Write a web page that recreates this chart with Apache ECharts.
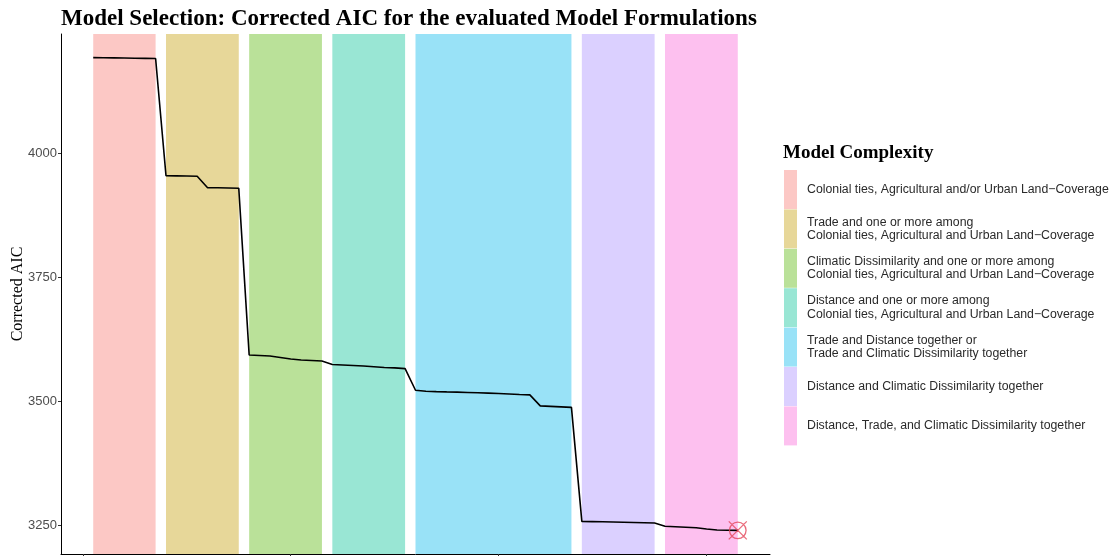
<!DOCTYPE html>
<html>
<head>
<meta charset="utf-8">
<script src="https://cdn.jsdelivr.net/npm/echarts@6/dist/echarts.min.js"></script>
<style>
  html, body { margin: 0; padding: 0; background: #ffffff; }
  #chart { width: 1111px; height: 556px; }
</style>
</head>
<body>
<div id="chart"></div>
<script>
// Model complexity groups, in the order the models are ranked
const groupNames = [
  'Colonial ties, Agricultural and/or Urban Land\u2212Coverage',
  'Trade and one or more among\nColonial ties, Agricultural and Urban Land\u2212Coverage',
  'Climatic Dissimilarity and one or more among\nColonial ties, Agricultural and Urban Land\u2212Coverage',
  'Distance and one or more among\nColonial ties, Agricultural and Urban Land\u2212Coverage',
  'Trade and Distance together or\nTrade and Climatic Dissimilarity together',
  'Distance and Climatic Dissimilarity together',
  'Distance, Trade, and Climatic Dissimilarity together'
];
// Number of model formulations in each group
const groupSizes = [7, 8, 8, 8, 16, 8, 8];

// Corrected AIC of every evaluated model (model index 1..63)
const aicColonial   = [4192, 4191.8, 4191.5, 4191.2, 4190.8, 4190.5, 4190.2];
const aicTrade      = [3954, 3953.8, 3953.5, 3953, 3930, 3929.8, 3929.5, 3929];
const aicClimatic   = [3593, 3592, 3591, 3588, 3585, 3583, 3582, 3581];
const aicDistance   = [3574, 3573, 3572, 3571, 3569.5, 3568, 3567, 3565.5];
const aicTradePairs = [3522, 3520, 3519.3, 3518.7, 3518.2, 3517.6, 3517, 3516.3,
                       3515.5, 3514.6, 3513.6, 3512.7, 3490.5, 3489.5, 3488.5, 3487.5];
const aicDistClim   = [3258, 3257.5, 3257, 3256.5, 3256, 3255.5, 3255, 3254.5];
const aicAll        = [3248, 3247, 3246, 3245, 3242.5, 3240.5, 3240, 3239.8];

const yTicks = [3250, 3500, 3750, 4000];
const xTicks = [0, 20, 40, 60];

// Band fill colours (hue palette blended 40% over white)
const bandColors = ['#FCC8C5', '#E7D799', '#BAE199', '#99E6D4', '#99E2F7', '#DBD0FF', '#FDC0EF'];

const aicValues = [].concat(aicColonial, aicTrade, aicClimatic, aicDistance,
                            aicTradePairs, aicDistClim, aicAll);
const linePoints = aicValues.map((v, i) => [i + 1, v]);
const best = linePoints[linePoints.length - 1];

// Group spans in model index units
const groupSpans = [];
let startIdx = 1;
groupSizes.forEach(n => { groupSpans.push([startIdx, startIdx + n - 1]); startIdx += n; });

// Axis ranges with 5% padding on both sides
const nModels = aicValues.length;
const xPad = (nModels - 1) * 0.05;
const yMinData = Math.min(...aicValues), yMaxData = Math.max(...aicValues);
const yPad = (yMaxData - yMinData) * 0.05;
const yMin = yMinData - yPad, yMax = yMaxData + yPad;

const sans = 'Liberation Sans, Arial, sans-serif';
const serif = 'Liberation Serif, Times New Roman, serif';

const bandSeries = groupNames.map((name, g) => ({
  name: name,
  type: 'custom',
  z: 1,
  itemStyle: { color: bandColors[g] },
  encode: { x: [0, 1], y: 2 },
  data: [[groupSpans[g][0], groupSpans[g][1], yMin]],
  renderItem: function (params, api) {
    const p0 = api.coord([api.value(0), api.value(2)]);
    const p1 = api.coord([api.value(1), api.value(2)]);
    const cs = params.coordSys;
    return {
      type: 'rect',
      shape: { x: p0[0], y: cs.y, width: p1[0] - p0[0], height: cs.height },
      style: { fill: api.visual('color') }
    };
  },
  silent: true
}));

const chart = echarts.init(document.getElementById('chart'), null, { renderer: 'canvas' });
chart.setOption({
  animation: false,
  backgroundColor: '#ffffff',
  title: [
    {
      text: 'Model Selection: Corrected AIC for the evaluated Model Formulations',
      left: 61, top: 8, padding: 0,
      textStyle: { fontFamily: serif, fontWeight: 'bold', fontSize: 23, color: '#000' }
    },
    {
      text: 'Model Complexity',
      left: 783, top: 144, padding: 0,
      textStyle: { fontFamily: serif, fontWeight: 'bold', fontSize: 19, color: '#000' }
    }
  ],
  grid: { left: 61, right: 341, top: 34, bottom: 2, containLabel: false, outerBoundsMode: 'none' },
  legend: {
    data: groupNames,
    orient: 'vertical',
    left: 784, top: 170,
    icon: 'rect',
    itemWidth: 13,
    itemHeight: 39,
    itemGap: 0.4,
    selectedMode: false,
    padding: 0,
    textStyle: { fontFamily: sans, fontSize: 12.3, color: '#2a2a2a', lineHeight: 13.5, padding: [0, 0, 0, 5] }
  },
  xAxis: {
    type: 'value',
    min: -xPad + 1, max: nModels + xPad,
    splitLine: { show: false },
    axisLine: { show: true, onZero: false, lineStyle: { color: '#000', width: 1 } },
    axisTick: { show: true, length: 3, lineStyle: { color: '#333' }, customValues: xTicks },
    axisLabel: { show: false, customValues: xTicks }
  },
  yAxis: {
    type: 'value',
    min: yMin, max: yMax,
    name: 'Corrected AIC',
    nameLocation: 'middle',
    nameGap: 35,
    nameMoveOverlap: false,
    nameTextStyle: { fontFamily: serif, fontSize: 16, color: '#000' },
    splitLine: { show: false },
    axisLine: { show: true, onZero: false, lineStyle: { color: '#000', width: 1 } },
    axisTick: { show: true, length: 3, lineStyle: { color: '#333' }, customValues: yTicks },
    axisLabel: {
      fontFamily: sans, fontSize: 13, color: '#4D4D4D', margin: 4, customValues: yTicks,
      formatter: v => String(v)
    }
  },
  series: bandSeries.concat([
    {
      name: 'AICc',
      type: 'line',
      z: 3,
      data: linePoints,
      symbol: 'none',
      lineStyle: { color: '#000', width: 1.6 },
      silent: true
    },
    {
      name: 'Best model',
      type: 'scatter',
      z: 4,
      data: [best],
      symbol: 'path://M0,-8.3A8.3,8.3,0,1,1,0,8.3A8.3,8.3,0,1,1,0,-8.3Z M-9,-9L9,9 M9,-9L-9,9',
      symbolSize: 18,
      itemStyle: { color: 'transparent', borderColor: '#E4465A', borderWidth: 1.3 },
      silent: true
    }
  ])
});
</script>
</body>
</html>
